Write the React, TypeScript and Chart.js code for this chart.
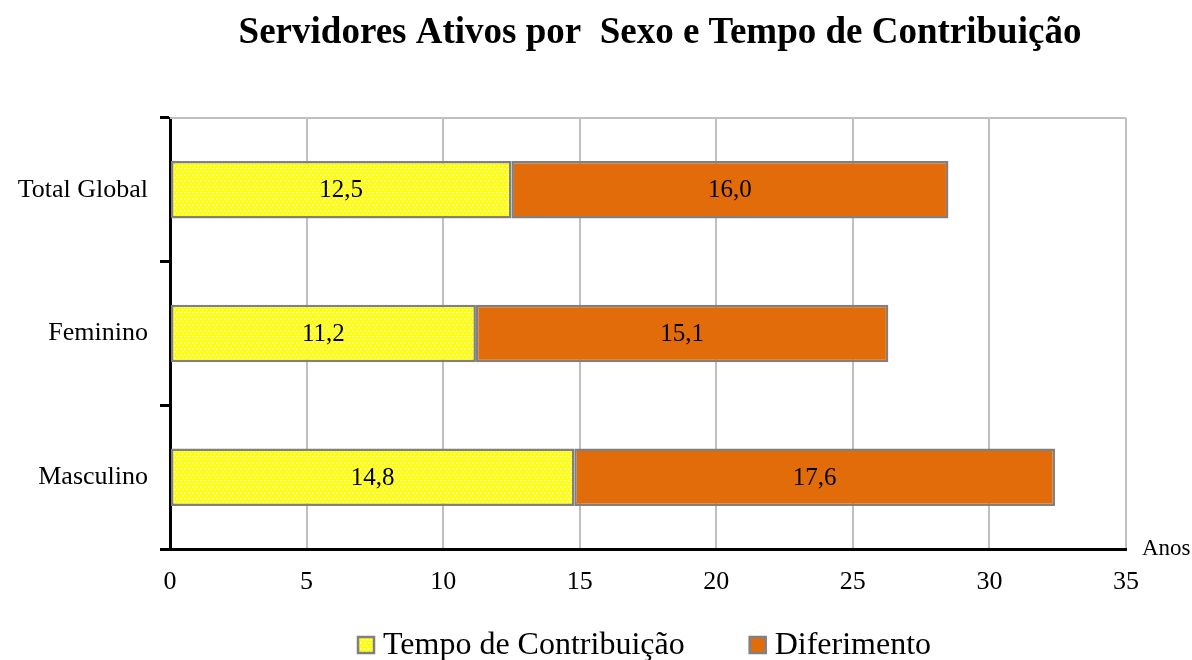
import React, { useEffect, useRef } from "react";
import { Chart, registerables } from "chart.js";

Chart.register(...registerables);

const chartTitle = "Servidores Ativos por  Sexo e Tempo de Contribuição";
const categories = ["Total Global", "Feminino", "Masculino"];
const seriesNames = ["Tempo de Contribuição", "Diferimento"];
const tempoContribuicao = [12.5, 11.2, 14.8];
const diferimento = [16.0, 15.1, 17.6];
const xMin = 0;
const xMax = 35;
const xStep = 5;
const axisUnit = "Anos";

const SERIF = '"Liberation Serif", "Times New Roman", serif';
const YELLOW = "#FFFF00";
const ORANGE = "#E36C0A";
const BAR_BORDER = "#808080";
const GRID = "#C0C0C0";

function makeDotPattern(ctx: CanvasRenderingContext2D): CanvasPattern | string {
  const tile = document.createElement("canvas");
  tile.width = 4;
  tile.height = 6;
  const t = tile.getContext("2d");
  if (!t) return YELLOW;
  t.fillStyle = YELLOW;
  t.fillRect(0, 0, 4, 6);
  t.fillStyle = "rgba(255,255,255,0.95)";
  t.fillRect(0, 0, 1.5, 1.5);
  t.fillRect(2, 3, 1.5, 1.5);
  return ctx.createPattern(tile, "repeat") || YELLOW;
}

const fmt = (v: number) => v.toFixed(1).replace(".", ",");

export default function App() {
  const canvasRef = useRef<HTMLCanvasElement | null>(null);

  useEffect(() => {
    const canvas = canvasRef.current;
    if (!canvas) return;
    const ctx = canvas.getContext("2d");
    if (!ctx) return;
    const pattern = makeDotPattern(ctx);
    const fills = [pattern, ORANGE];

    const decorPlugin = {
      id: "decor",
      beforeDatasetsDraw(chart: any) {
        const { ctx: c, chartArea } = chart;
        c.save();
        c.strokeStyle = GRID;
        c.lineWidth = 2;
        c.beginPath();
        c.moveTo(chartArea.left, chartArea.top);
        c.lineTo(chartArea.right, chartArea.top);
        c.stroke();
        c.restore();
      },
      afterDatasetsDraw(chart: any) {
        const { ctx: c } = chart;
        c.save();
        c.font = `25px ${SERIF}`;
        c.fillStyle = "#000";
        c.textAlign = "center";
        c.textBaseline = "middle";
        chart.data.datasets.forEach((ds: any, di: number) => {
          const meta = chart.getDatasetMeta(di);
          meta.data.forEach((bar: any, i: number) => {
            const v = ds.data[i];
            const cx = (bar.x + bar.base) / 2;
            c.fillText(fmt(v), cx, bar.y + 1);
          });
        });
        c.restore();
      },
      afterDraw(chart: any) {
        const { ctx: c, chartArea } = chart;
        c.save();
        // title
        c.font = `bold 37px ${SERIF}`;
        c.fillStyle = "#000";
        c.textAlign = "center";
        c.textBaseline = "alphabetic";
        c.fillText(chartTitle, (chartArea.left + chartArea.right) / 2 + 12, 43);
        // unit label
        c.font = `23px ${SERIF}`;
        c.textAlign = "left";
        c.fillText(axisUnit, chartArea.right + 16, 555);
        // legend
        c.font = `32px ${SERIF}`;
        c.textBaseline = "alphabetic";
        let x = 358;
        const boxTop = 637;
        const box = 16;
        const baseline = 654;
        seriesNames.forEach((name, i) => {
          c.fillStyle = fills[i];
          c.fillRect(x, boxTop, box, box);
          c.strokeStyle = BAR_BORDER;
          c.lineWidth = 2.5;
          c.strokeRect(x, boxTop, box, box);
          c.fillStyle = "#000";
          c.fillText(name, x + 25, baseline);
          x += 25 + c.measureText(name).width + 65;
        });
        c.restore();
      },
    };

    const chart = new Chart(ctx, {
      type: "bar",
      data: {
        labels: categories,
        datasets: [
          {
            label: seriesNames[0],
            data: tempoContribuicao,
            backgroundColor: pattern as any,
            borderColor: BAR_BORDER,
            borderWidth: 2.5,
            borderSkipped: false,
            barPercentage: 0.4,
            categoryPercentage: 1,
          },
          {
            label: seriesNames[1],
            data: diferimento,
            backgroundColor: ORANGE,
            borderColor: BAR_BORDER,
            borderWidth: 2.5,
            borderSkipped: false,
            barPercentage: 0.4,
            categoryPercentage: 1,
          },
        ],
      },
      options: {
        indexAxis: "y",
        responsive: false,
        animation: false,
        devicePixelRatio: 1,
        layout: { padding: { top: 118, right: 66, left: 0, bottom: 0 } },
        plugins: {
          legend: { display: false },
          title: { display: false },
          tooltip: { enabled: false },
        },
        scales: {
          x: {
            type: "linear",
            stacked: true,
            min: xMin,
            max: xMax,
            ticks: {
              stepSize: xStep,
              color: "#000",
              font: { family: SERIF, size: 26 },
              padding: 18,
              maxRotation: 0,
            },
            grid: { color: GRID, lineWidth: 2, drawTicks: false },
            border: { color: "#000", width: 3 },
            afterFit(scale: any) {
              scale.height = 111;
            },
          },
          y: {
            type: "category",
            stacked: true,
            ticks: {
              color: "#000",
              font: { family: SERIF, size: 26 },
              padding: 12,
            },
            grid: {
              offset: true,
              drawOnChartArea: false,
              tickLength: 10,
              tickColor: "#000",
              tickWidth: 3,
            },
            border: { color: "#000", width: 3 },
            afterFit(scale: any) {
              scale.width = 170;
            },
          },
        },
      },
      plugins: [decorPlugin],
    });

    return () => chart.destroy();
  }, []);

  return (
    <div
      style={{
        position: "fixed",
        left: 0,
        top: 0,
        width: 1192,
        height: 660,
        background: "#fff",
      }}
    >
      <canvas ref={canvasRef} width={1192} height={660} />
    </div>
  );
}
